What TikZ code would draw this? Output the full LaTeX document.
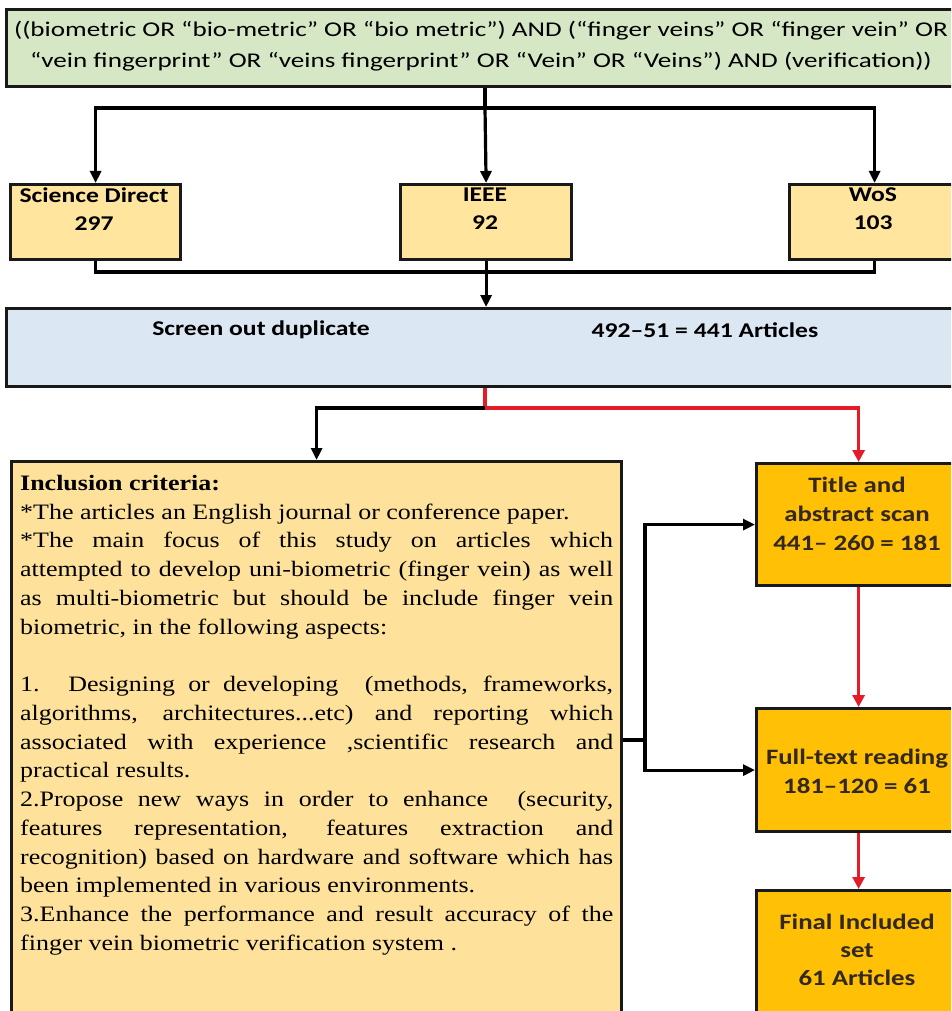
\documentclass[tikz,border=0pt]{standalone}
\usepackage{fontspec}
\setmainfont{Liberation Serif}
\newfontfamily\boxsans{Carlito}[FakeStretch=1.22]
\newfontfamily\querysans{Carlito}[FakeStretch=1.29]
\newfontfamily\boxserif{Liberation Serif}[FakeStretch=1.18]
\usetikzlibrary{arrows.meta,calc}
\definecolor{qgreen}{RGB}{213,231,196}
\definecolor{syellow}{RGB}{255,229,158}
\definecolor{sblue}{RGB}{220,231,244}
\definecolor{iyellow}{RGB}{254,226,156}
\definecolor{gold}{RGB}{255,192,5}
\definecolor{lred}{RGB}{228,28,40}
\definecolor{bord}{RGB}{25,25,25}
\definecolor{gtext}{RGB}{50,40,30}
\begin{document}
\begin{tikzpicture}[x=1pt,y=-1pt,
  box/.style={draw=bord,line width=3.2pt,inner sep=0pt,anchor=north west},
  sanstext/.style={font=\querysans\fontsize{21}{31}\selectfont,align=center,inner sep=0pt},
  sansbold/.style={font=\boxsans\bfseries\fontsize{21}{28}\selectfont,align=center,inner sep=0pt},
  goldtext/.style={font=\boxsans\bfseries\fontsize{22}{29}\selectfont,align=center,inner sep=0pt,text=gtext},
  conn/.style={line width=3.2pt,draw=black},
  arr/.style={conn,-{Triangle[length=12pt,width=11pt]}},
  redconn/.style={line width=3.2pt,draw=lred},
  redarr/.style={redconn,-{Triangle[length=12pt,width=12pt]},lred}
]
\useasboundingbox (0,0) rectangle (951,1011);
\fill[white] (0,0) rectangle (951,1011);
\clip (0,0) rectangle (951,1011);

% boxes
\node[box,fill=qgreen,minimum width=960pt,minimum height=77pt] (query) at (5,8) {};
\node[sanstext] (queryT) at (481,46.5) {((biometric OR “bio-metric” OR “bio metric”) AND (“finger veins” OR “finger vein” OR\\“vein fingerprint” OR “veins fingerprint” OR “Vein” OR “Veins”) AND (verification))};

\node[box,fill=syellow,minimum width=170pt,minimum height=75pt] (sd) at (9,183) {};
\node[box,fill=syellow,minimum width=171pt,minimum height=75pt] (ieee) at (399,183) {};
\node[box,fill=syellow,minimum width=170pt,minimum height=75pt] (wos) at (788,183) {};
\node[sansbold] (sdT) at (94,209) {Science Direct\\297};
\node[sansbold] (ieeeT) at (485,209) {IEEE\\92};
\node[sansbold] (wosT) at (873,209) {WoS\\103};

\node[box,fill=sblue,minimum width=960pt,minimum height=78pt] (screen) at (5,307) {};
\node[sansbold] (screenA) at (261,330) {Screen out duplicate};
\node[sansbold] (screenB) at (705,330) {492–51 = 441 Articles};

\node[box,fill=iyellow,minimum width=610pt,minimum height=620pt] (incl) at (10,460) {};
\node[anchor=north west,inner sep=0pt,text width=593pt,align=justify,
  font=\boxserif\fontsize{22}{28.75}\selectfont] (inclT) at (20,475) {%
\hyphenpenalty=10000\exhyphenpenalty=10000\emergencystretch=20pt
\textbf{Inclusion criteria:}\\
{*}The articles an English journal or conference paper.\\
{*}The main focus of this study on articles which\linebreak
attempted to develop uni-biometric (finger vein) as well\linebreak
as multi-biometric but should be include finger vein\linebreak
biometric, in the following aspects:\\[28.75pt]
1. Designing or developing\ \ (methods, frameworks,\linebreak
algorithms, architectures...etc) and reporting which\linebreak
associated with experience ,scientific research and\linebreak
practical results.\\
2.Propose new ways in order to enhance\ \ (security,\linebreak
features representation, features extraction and\linebreak
recognition) based on hardware and software which has\linebreak
been implemented in various environments.\\
3.Enhance the performance and result accuracy of the\linebreak
finger vein biometric verification system .};

\node[box,fill=gold,minimum width=204pt,minimum height=122pt] (title) at (755,462) {};
\node[goldtext] (titleT) at (857,514) {Title and\\abstract scan\\441– 260 = 181};
\node[box,fill=gold,minimum width=204pt,minimum height=123pt] (full) at (755,707) {};
\node[goldtext] (fullT) at (857,771) {Full-text reading\\181–120 = 61};
\node[box,fill=gold,minimum width=204pt,minimum height=170pt] (final) at (755,889) {};
\node[goldtext,font=\boxsans\bfseries\fontsize{22}{28}\selectfont] (finalT) at (857,950) {Final Included\\set\\61 Articles};

% connectors
\coordinate (br) at (485,108);
\draw[conn] (query.south -| br) -- (br);
\draw[arr] (br) -| (sd.north);
\draw[arr] (br) -- (ieee.north);
\draw[arr] (br) -| (wos.north);
\coordinate (mg) at (485,272);
\draw[conn] (sd.south) |- (mg) -| (wos.south);
\draw[arr] (ieee.south) -- (screen.north -| ieee.south);

\coordinate (sp) at (485,408);
\draw[redconn] (screen.south -| sp) -- (sp);
\draw[arr] (sp) -| (incl.north);
\draw[redarr] (sp) -| (title.north);
\draw[redarr] (title.south) -- (full.north);
\draw[redarr] (full.south) -- (final.north);

\coordinate (j) at (645,740);
\draw[conn] (incl.east |- j) -- (j);
\draw[arr] (j) |- (title.west);
\draw[arr] (j) |- (full.west);
\end{tikzpicture}
\end{document}
